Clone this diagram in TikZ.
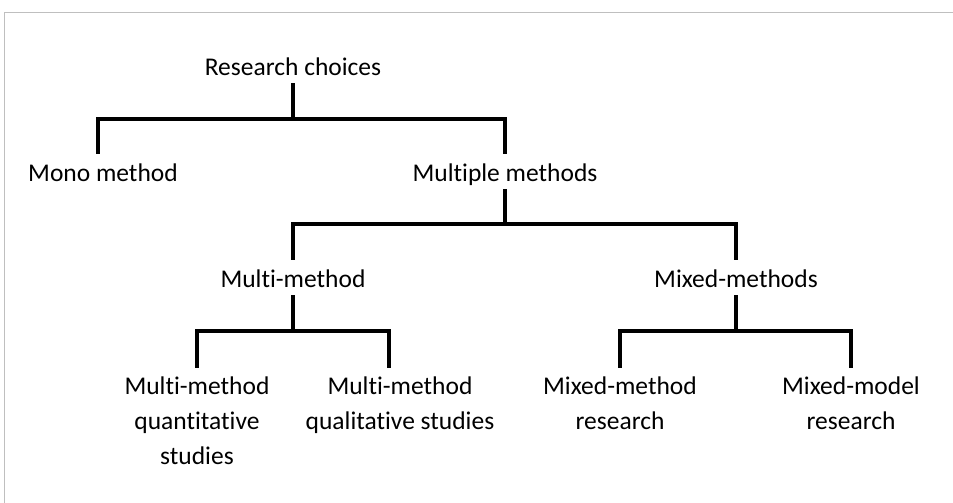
\documentclass[tikz,border=0pt]{standalone}
\usepackage{fontspec}
\setmainfont[Ligatures={NoCommon}]{Carlito}
\usepackage{tikz}
\usetikzlibrary{positioning}

\tikzset{
	lbl/.style={inner sep=0pt,anchor=base,text height=27pt,text depth=8pt,
		font=\fontsize{25.5}{35}\selectfont},
	leaf/.style={inner xsep=0pt,inner ysep=9pt,anchor=north,align=center,
		font=\fontsize{25.5}{35}\selectfont},
	conn/.style={line width=4pt,black}
}

\begin{document}
\begin{tikzpicture}[x=1pt,y=-1pt]
			
			\useasboundingbox (0,0) rectangle (953,503);
			\draw[black!25,line width=1pt] (4,503) |- (953,13);
			
			\node[lbl] (RC) at (293,75) {Research choices};
			
			\node[lbl] (MO) at (103,181) {Mono method};
			\node[lbl] (MU) at (505,181) {Multiple methods};
			
			\draw[conn] (RC.south) -- ++(0,36) -| ([xshift=-5pt]MO.north);
			\draw[conn] (RC.south) -- ++(0,36) -| (MU.north);
			
			\node[lbl] (MM) at (293,287) {Multi-method};
			\node[lbl] (MX) at (736,287) {Mixed-methods};
			
			\draw[conn] (MU.south) -- ++(0,35) -| (MM.north);
			\draw[conn] (MU.south) -- ++(0,35) -| (MX.north);
			
			\node[leaf] (Q1) at (197,368) {Multi-method\\quantitative\\studies};
			\node[leaf] (Q2) at (400,368) {Multi-method\\qualitative studies};
			
			\draw[conn] (MM.south) -- ++(0,36) -| (Q1.north);
			\draw[conn] (MM.south) -- ++(0,36) -| ([xshift=-11pt]Q2.north);
			
			\node[leaf] (X1) at (620,368) {Mixed-method\\research};
			\node[leaf] (X2) at (851,368) {Mixed-model\\research};
			
			\draw[conn] (MX.south) -- ++(0,36) -| (X1.north);
			\draw[conn] (MX.south) -- ++(0,36) -| (X2.north);
			
\end{tikzpicture}
\end{document}
